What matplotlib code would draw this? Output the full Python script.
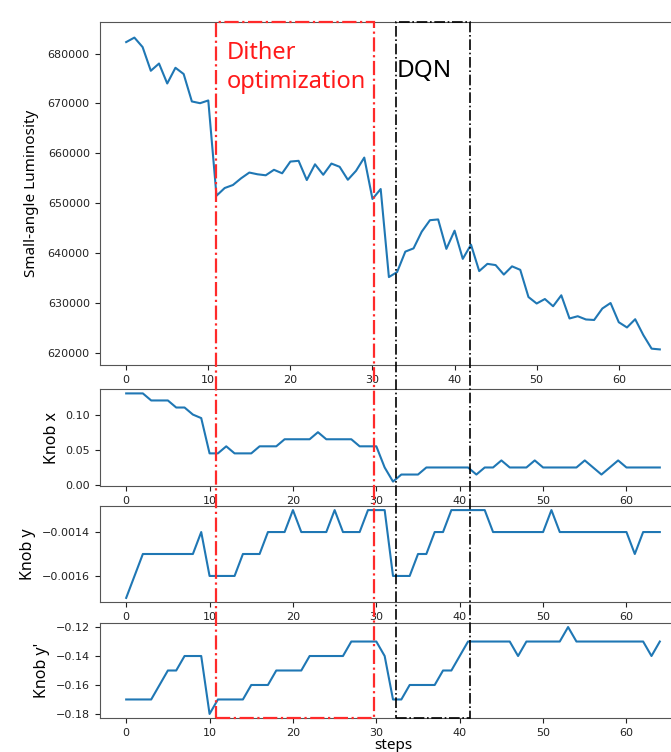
import numpy as np
import matplotlib
matplotlib.use("Agg")
import matplotlib.pyplot as plt
from matplotlib.patches import Rectangle
from matplotlib.transforms import blended_transform_factory
from matplotlib.ticker import MultipleLocator, ScalarFormatter

# ---- data ----
luminosity = [682300, 683200, 681300, 676550, 678000, 674000, 677150, 675900, 670400, 670050,
              670600, 651500, 653050, 653650, 655000, 656150, 655800, 655600, 656700, 656000,
              658350, 658500, 654650, 657800, 655700, 657950, 657300, 654700, 656500, 659150,
              650850, 652850, 635200, 636200, 640300, 640950, 644300, 646600, 646750, 640850,
              644500, 638850, 641700, 636400, 637850, 637600, 635700, 637350, 636650, 631200,
              629900, 630800, 629350, 631550, 626900, 627350, 626700, 626600, 628900, 630000,
              626150, 625100, 626750, 623550, 620850, 620700]

knob_x = [0.13, 0.13, 0.13, 0.12, 0.12, 0.12, 0.11, 0.11, 0.10, 0.095,
          0.045, 0.045, 0.055, 0.045, 0.045, 0.045, 0.055, 0.055, 0.055, 0.065,
          0.065, 0.065, 0.065, 0.075, 0.065, 0.065, 0.065, 0.065, 0.055, 0.055,
          0.055, 0.025, 0.005, 0.015, 0.015, 0.015, 0.025, 0.025, 0.025, 0.025,
          0.025, 0.025, 0.015, 0.025, 0.025, 0.035, 0.025, 0.025, 0.025, 0.035,
          0.025, 0.025, 0.025, 0.025, 0.025, 0.035, 0.025, 0.015, 0.025, 0.035,
          0.025, 0.025, 0.025, 0.025, 0.025]

knob_y = [-0.0017, -0.0016, -0.0015, -0.0015, -0.0015, -0.0015, -0.0015, -0.0015, -0.0015, -0.0014,
          -0.0016, -0.0016, -0.0016, -0.0016, -0.0015, -0.0015, -0.0015, -0.0014, -0.0014, -0.0014,
          -0.0013, -0.0014, -0.0014, -0.0014, -0.0014, -0.0013, -0.0014, -0.0014, -0.0014, -0.0013,
          -0.0013, -0.0013, -0.0016, -0.0016, -0.0016, -0.0015, -0.0015, -0.0014, -0.0014, -0.0013,
          -0.0013, -0.0013, -0.0013, -0.0013, -0.0014, -0.0014, -0.0014, -0.0014, -0.0014, -0.0014,
          -0.0014, -0.0013, -0.0014, -0.0014, -0.0014, -0.0014, -0.0014, -0.0014, -0.0014, -0.0014,
          -0.0014, -0.0015, -0.0014, -0.0014, -0.0014]

knob_yp = [-0.17, -0.17, -0.17, -0.17, -0.16, -0.15, -0.15, -0.14, -0.14, -0.14,
           -0.18, -0.17, -0.17, -0.17, -0.17, -0.16, -0.16, -0.16, -0.15, -0.15,
           -0.15, -0.15, -0.14, -0.14, -0.14, -0.14, -0.14, -0.13, -0.13, -0.13,
           -0.13, -0.14, -0.17, -0.17, -0.16, -0.16, -0.16, -0.16, -0.15, -0.15,
           -0.14, -0.13, -0.13, -0.13, -0.13, -0.13, -0.13, -0.14, -0.13, -0.13,
           -0.13, -0.13, -0.13, -0.12, -0.13, -0.13, -0.13, -0.13, -0.13, -0.13,
           -0.13, -0.13, -0.13, -0.14, -0.13]

dither_range = (10.8, 29.7)
dqn_range = (32.3, 41.2)

# ---- figure ----
W, H = 671, 752
fig = plt.figure(figsize=(W / 100, H / 100), dpi=100)

left = 99.5 / W
width = 587 / W

def box(top_px, bot_px):
    return [left, (H - bot_px) / H, width, (bot_px - top_px) / H]

ax1 = fig.add_axes(box(22, 365))
ax2 = fig.add_axes(box(389, 486))
ax3 = fig.add_axes(box(505.7, 602.3))
ax4 = fig.add_axes(box(622.7, 718.3))

blue = "#1f77b4"
label_font = "Noto Sans"
tick_size = 8

ax1.plot(np.arange(len(luminosity)), luminosity, color=blue, lw=1.5)
ax2.plot(np.arange(len(knob_x)), knob_x, color=blue, lw=1.5)
ax3.plot(np.arange(len(knob_y)), knob_y, color=blue, lw=1.5)
ax4.plot(np.arange(len(knob_yp)), knob_yp, color=blue, lw=1.5)

for ax in (ax1, ax2, ax3, ax4):
    ax.xaxis.set_major_locator(MultipleLocator(10))
    ax.tick_params(labelsize=tick_size, colors="#222222")
    for s in ax.spines.values():
        s.set_color("#555555")

ax1.set_ylabel("Small-angle Luminosity", family=label_font, fontsize=11, labelpad=6)
ax2.set_ylabel("Knob x", family=label_font, fontsize=11.5)
ax3.set_ylabel("Knob y", family=label_font, fontsize=11.5)
ax4.set_ylabel("Knob y'", family=label_font, fontsize=11.5)
ax4.set_xlabel("steps", family=label_font, fontsize=11, labelpad=0)

ax2.yaxis.set_major_locator(MultipleLocator(0.05))
ax3.yaxis.set_major_locator(MultipleLocator(0.0002))
fmt = ScalarFormatter(useOffset=False)
ax3.yaxis.set_major_formatter(fmt)
ax4.yaxis.set_major_locator(MultipleLocator(0.02))

# region boxes spanning all panels
y_top = ax1.get_position().y1
y_bot = ax4.get_position().y0
tr = blended_transform_factory(ax4.transData, fig.transFigure)
fig.add_artist(Rectangle((dither_range[0], y_bot), dither_range[1] - dither_range[0], y_top - y_bot,
                         transform=tr, fill=False, edgecolor="#ff2a2a", lw=1.6, ls="-.",
                         clip_on=False, zorder=5))
fig.add_artist(Rectangle((dqn_range[0], y_bot), dqn_range[1] - dqn_range[0], y_top - y_bot,
                         transform=tr, fill=False, edgecolor="black", lw=1.2, ls="-.",
                         clip_on=False, zorder=5))

ax1.text(12.2, 682500, "Dither\noptimization", color="#ff1a1a", family=label_font,
         fontsize=17, ha="left", va="top", linespacing=1.3)
ax1.text(33.0, 679000, "DQN", color="black", family=label_font,
         fontsize=17.5, ha="left", va="top")

fig.savefig("out.png", dpi=100)
